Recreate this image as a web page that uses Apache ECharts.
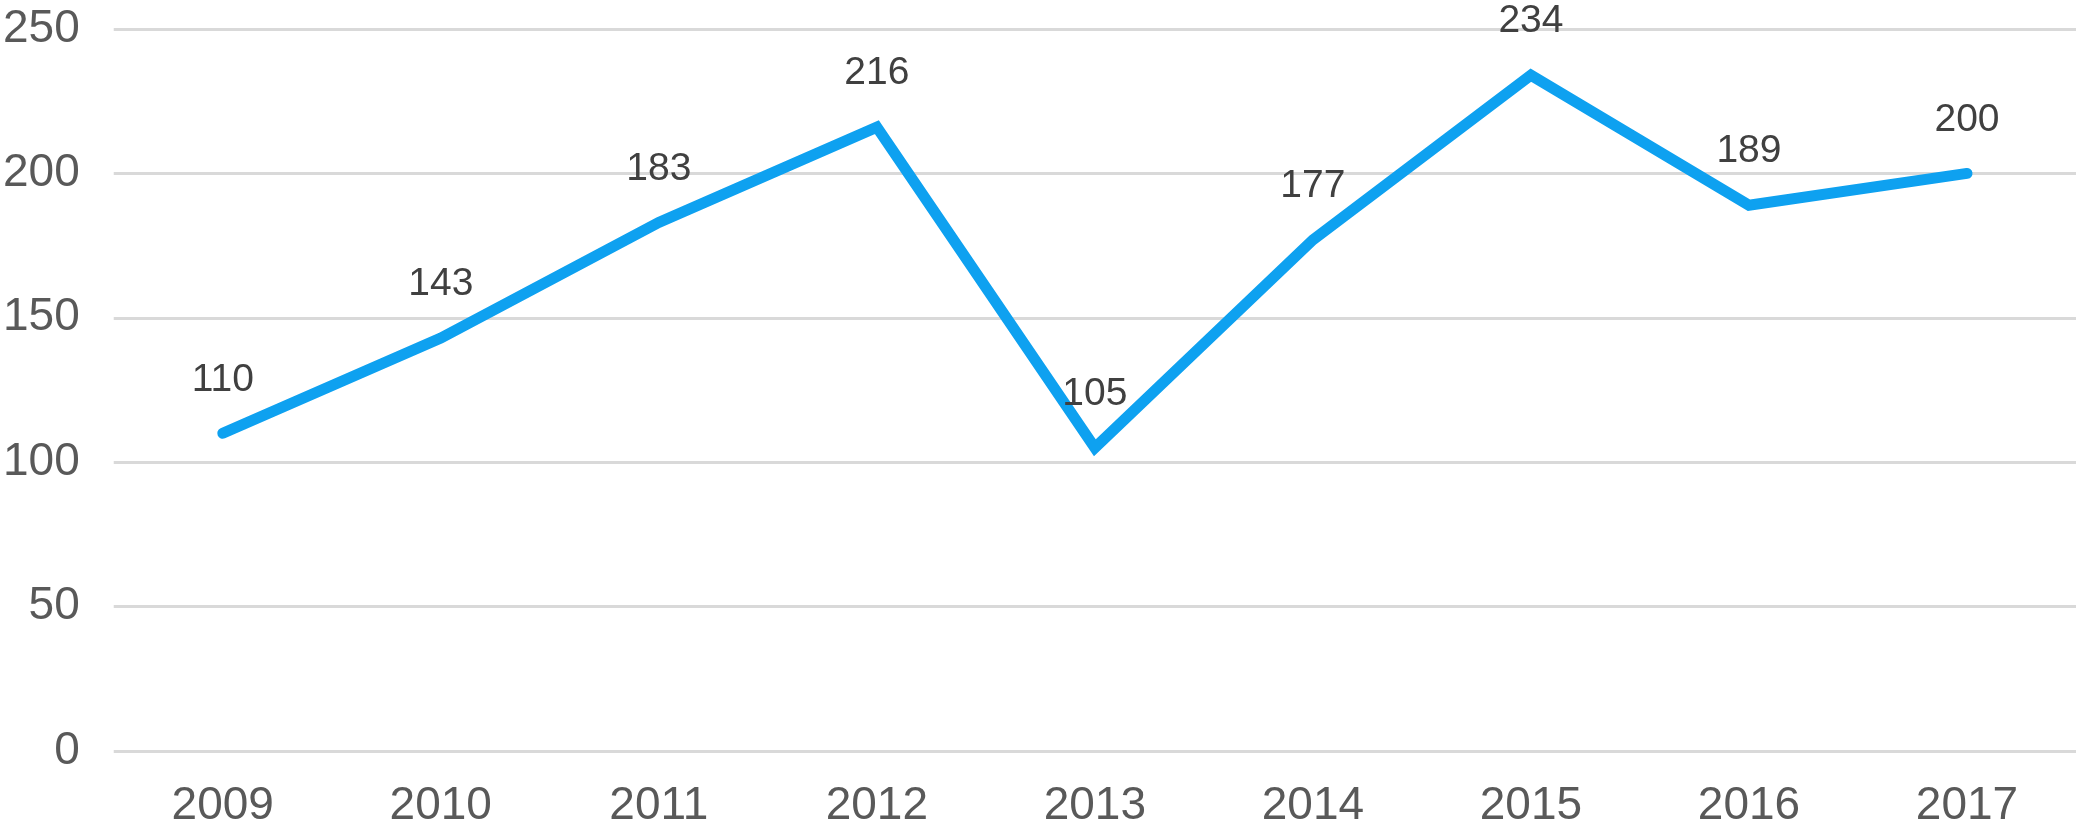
<!DOCTYPE html>
<html>
<head>
<meta charset="utf-8">
<script src="https://cdn.jsdelivr.net/npm/echarts@6/dist/echarts.min.js"></script>
<style>
	html, body { margin: 0; padding: 0; background: #fff; }
	#chart { width: 2077px; height: 833px; }
</style>
</head>
<body>
<div id="chart"></div>
<script>
var years = ['2009', '2010', '2011', '2012', '2013', '2014', '2015', '2016', '2017'];
var values = [110, 143, 183, 216, 105, 177, 234, 189, 200];
var yTicks = [0, 50, 100, 150, 200, 250];

var chart = echarts.init(document.getElementById('chart'));

var option = {
	backgroundColor: '#fff',
	animation: false,
	grid: {
		left: 111,
		right: 1,
		top: 29,
		bottom: 82,
		containLabel: false
	},
	xAxis: {
		type: 'category',
		data: years,
		boundaryGap: true,
		axisLine: { show: false },
		axisTick: { show: false },
		axisLabel: {
			color: '#595959',
			fontFamily: 'Liberation Sans',
			fontSize: 46,
			margin: 32
		}
	},
	yAxis: {
		type: 'value',
		min: yTicks[0],
		max: yTicks[yTicks.length - 1],
		interval: 50,
		axisLine: { show: false },
		axisTick: { show: false },
		axisLabel: {
			color: '#595959',
			fontFamily: 'Liberation Sans',
			fontSize: 46,
			margin: 34
		},
		splitLine: {
			lineStyle: { color: '#d9d9d9', width: 3 }
		}
	},
	series: [{
		type: 'line',
		data: values,
		symbol: 'circle',
		symbolSize: 2,
		showSymbol: true,
		itemStyle: { color: 'rgba(0,0,0,0)', borderWidth: 0 },
		lineStyle: {
			color: '#0EA1F0',
			width: 11,
			cap: 'round',
			join: 'miter'
		},
		label: {
			show: true,
			position: 'top',
			distance: 33,
			color: '#404040',
			fontFamily: 'Liberation Sans',
			fontSize: 39
		}
	}]
};

chart.setOption(option);
</script>
</body>
</html>
